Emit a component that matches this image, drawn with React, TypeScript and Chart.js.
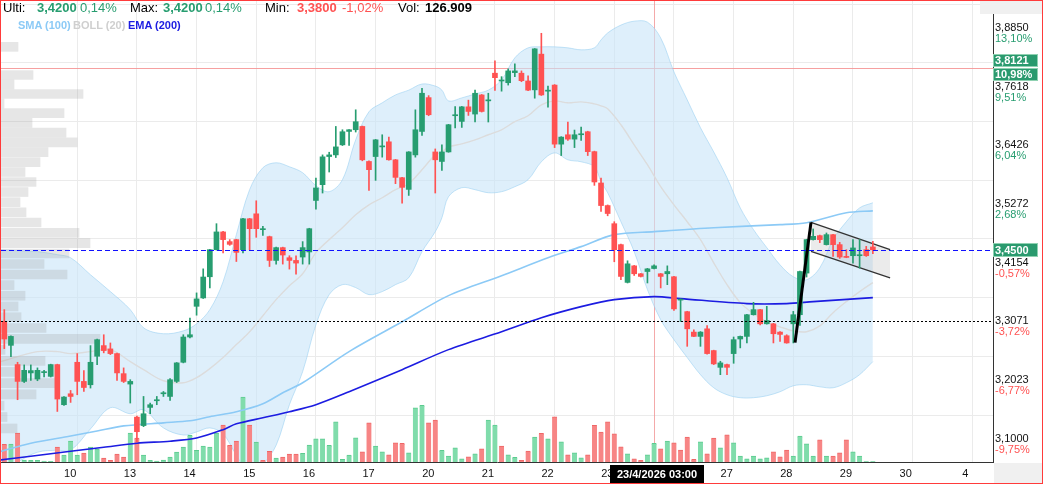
import React, { useEffect, useRef } from 'react';
import { Chart, registerables } from 'chart.js';

Chart.register(...registerables);

// ---------------- data ----------------
const dayTickIndex = [11, 20, 29, 38, 47, 56, 65, 74, 83, 92, 101, 110, 119, 128, 137, 146];
const dayTickLabels = ['10', '13', '14', '15', '16', '17', '20', '21', '22', '23', '24', '27', '28', '29', '30', '4'];

const priceTicks = [3.885, 3.7618, 3.6426, 3.5272, 3.4154, 3.3071, 3.2023, 3.1];
const priceTickPct = ['13,10%', '9,51%', '6,04%', '2,68%', '-0,57%', '-3,72%', '-6,77%', '-9,75%'];

const opens = [
  3.3169, 3.2737, 3.2393, 3.2095, 3.2245, 3.2137, 3.2250, 3.2184, 3.2393, 3.1687,
  3.1878, 3.2434, 3.2095, 3.2036, 3.2541, 3.2732, 3.2673, 3.2589, 3.2232, 3.2048,
  3.1472, 3.1326, 3.1640, 3.1756, 3.1878, 3.1831, 3.2095, 3.2434, 3.2887, 3.3446,
  3.3600, 3.3993, 3.4502, 3.4840, 3.4655, 3.4693, 3.4502, 3.5093, 3.5188, 3.4883,
  3.4750, 3.4299, 3.4541, 3.4350, 3.4299, 3.4363, 3.4459, 3.5447, 3.5756, 3.6312,
  3.6345, 3.6546, 3.6816, 3.6850, 3.6917, 3.6214, 3.6312, 3.6505, 3.6607, 3.6247,
  3.5893, 3.5663, 3.6345, 3.6816, 3.7506, 3.6404, 3.6214, 3.6404, 3.7135, 3.7019,
  3.7317, 3.7169, 3.7561, 3.7439, 3.8012, 3.7850, 3.7814, 3.8024, 3.8012, 3.7850,
  3.7666, 3.8412, 3.7639, 3.7765, 3.6560, 3.6749, 3.6661, 3.6749, 3.6810, 3.6410,
  3.5789, 3.5348, 3.4998, 3.4598, 3.3888, 3.4197, 3.4049, 3.4091, 3.4147, 3.4049,
  3.4049, 3.3993, 3.3560, 3.3348, 3.2976, 3.2898, 3.3035, 3.2643, 3.2344, 3.2393,
  3.2589, 3.2851, 3.2898, 3.3292, 3.3385, 3.3126, 3.3126, 3.2976, 3.2910, 3.3126,
  3.3292, 3.4062, 3.4693, 3.4769, 3.4598, 3.4788, 3.4598, 3.4369, 3.4388, 3.4388,
  3.4502, 3.4554,
];
const highs = [
  3.3385, 3.2910, 3.2434, 3.2387, 3.2387, 3.2334, 3.2291, 3.2400, 3.2400, 3.1831,
  3.1936, 3.2589, 3.2286, 3.2732, 3.2850, 3.2928, 3.2780, 3.2600, 3.2334, 3.2125,
  3.1490, 3.1831, 3.1716, 3.1831, 3.1918, 3.2143, 3.2430, 3.2928, 3.3231, 3.3693,
  3.4141, 3.4510, 3.4998, 3.4850, 3.4693, 3.4700, 3.5100, 3.5100, 3.5441, 3.4946,
  3.4760, 3.4550, 3.4550, 3.4388, 3.4388, 3.4655, 3.4910, 3.5887, 3.6345, 3.6398,
  3.6917, 3.6850, 3.6855, 3.7256, 3.6925, 3.6225, 3.6655, 3.6749, 3.6702, 3.6255,
  3.5900, 3.6410, 3.7256, 3.7696, 3.7547, 3.6464, 3.6546, 3.6960, 3.7324, 3.7325,
  3.7454, 3.7660, 3.7570, 3.7596, 3.8271, 3.7940, 3.8102, 3.8208, 3.8060, 3.7955,
  3.8530, 3.8854, 3.7744, 3.7775, 3.6710, 3.7007, 3.6844, 3.6905, 3.6820, 3.6420,
  3.5887, 3.5360, 3.5036, 3.4610, 3.4292, 3.4205, 3.4055, 3.4150, 3.4216, 3.4055,
  3.4197, 3.4000, 3.3582, 3.3355, 3.3017, 3.2985, 3.3095, 3.2650, 3.2452, 3.2400,
  3.2887, 3.2905, 3.3300, 3.3519, 3.3390, 3.3446, 3.3135, 3.2985, 3.2928, 3.3353,
  3.4100, 3.4700, 3.4897, 3.4780, 3.4820, 3.4795, 3.4641, 3.4502, 3.4693, 3.4693,
  3.4565, 3.4661,
];
const lows = [
  3.2678, 3.2535, 3.1774, 3.2075, 3.2113, 3.2107, 3.2173, 3.2173, 3.1570, 3.1674,
  3.1727, 3.1861, 3.1918, 3.1978, 3.2393, 3.2602, 3.2571, 3.2113, 3.2075, 3.1716,
  3.1047, 3.1308, 3.1530, 3.1687, 3.1831, 3.1762, 3.2075, 3.2423, 3.2869, 3.3283,
  3.3590, 3.3785, 3.4495, 3.4440, 3.4584, 3.4279, 3.4440, 3.4502, 3.4737, 3.4775,
  3.4185, 3.4230, 3.4230, 3.4136, 3.4043, 3.4230, 3.4230, 3.5278, 3.5592, 3.6005,
  3.6292, 3.6532, 3.6532, 3.6804, 3.6227, 3.5644, 3.5840, 3.6300, 3.6240, 3.5775,
  3.5396, 3.5545, 3.6300, 3.6735, 3.7135, 3.5592, 3.6037, 3.6398, 3.6885, 3.6897,
  3.7141, 3.7007, 3.7210, 3.7007, 3.7654, 3.7639, 3.7765, 3.7940, 3.7835, 3.7650,
  3.7494, 3.7550, 3.7311, 3.6491, 3.6332, 3.6633, 3.6491, 3.6633, 3.6332, 3.5742,
  3.5232, 3.5150, 3.4274, 3.3938, 3.3877, 3.4017, 3.3988, 3.3877, 3.4140, 3.3785,
  3.3846, 3.3372, 3.3169, 3.2719, 3.2892, 3.2719, 3.2580, 3.2393, 3.2214, 3.2214,
  3.2416, 3.2691, 3.2780, 3.3285, 3.3108, 3.3120, 3.2780, 3.2809, 3.2775, 3.2780,
  3.3095, 3.3988, 3.4685, 3.4636, 3.4590, 3.4375, 3.4337, 3.4350, 3.4249, 3.4154,
  3.4375, 3.4426,
];
const closes = [
  3.2851, 3.2898, 3.2095, 3.2291, 3.2286, 3.2291, 3.2268, 3.2393, 3.1786, 3.1821,
  3.1831, 3.2095, 3.1988, 3.2434, 3.2839, 3.2643, 3.2589, 3.2245, 3.2095, 3.2095,
  3.1221, 3.1530, 3.1687, 3.1774, 3.1896, 3.2125, 3.2423, 3.2887, 3.2928, 3.3582,
  3.3988, 3.4502, 3.4840, 3.4693, 3.4603, 3.4451, 3.5093, 3.4902, 3.4902, 3.4902,
  3.4299, 3.4541, 3.4401, 3.4299, 3.4249, 3.4541, 3.4902, 3.5691, 3.6306, 3.6345,
  3.6505, 3.6810, 3.6850, 3.7013, 3.6247, 3.6051, 3.6647, 3.6525, 3.6247, 3.5899,
  3.5703, 3.6404, 3.6850, 3.7596, 3.7155, 3.6247, 3.6404, 3.6952, 3.7155, 3.7317,
  3.7222, 3.7596, 3.7222, 3.7460, 3.7919, 3.7871, 3.8060, 3.8060, 3.7856, 3.7660,
  3.8524, 3.7561, 3.7660, 3.6560, 3.6702, 3.6661, 3.6749, 3.6769, 3.6410, 3.5809,
  3.5348, 3.5194, 3.4502, 3.3999, 3.4235, 3.4049, 3.3999, 3.4141, 3.4197, 3.3999,
  3.4091, 3.3398, 3.3578, 3.3035, 3.2898, 3.2976, 3.2589, 3.2405, 3.2423, 3.2344,
  3.2839, 3.2898, 3.3292, 3.3385, 3.3126, 3.3187, 3.2946, 3.2934, 3.2780, 3.3292,
  3.4091, 3.4693, 3.4756, 3.4693, 3.4788, 3.4598, 3.4363, 3.4356, 3.4535, 3.4401,
  3.4388, 3.4500,
];

// volume in thousands
const volumes = [
  88, 90, 145, 10, 8, 8, 5, 3, 75, 35,
  105, 35, 45, 75, 65, 20, 8, 40, 25, 145,
  120, 35, 8, 4, 10, 25, 50, 75, 133, 58,
  80, 75, 145, 185, 83, 105, 325, 185, 100, 8,
  53, 20, 25, 40, 40, 43, 84, 116, 116, 83,
  201, 13, 34, 121, 51, 196, 79, 51, 36, 96,
  93, 46, 271, 283, 196, 209, 58, 29, 71, 16,
  26, 41, 66, 209, 184, 79, 36, 23, 8, 54,
  124, 143, 116, 226, 101, 36, 46, 21, 36, 183,
  149, 201, 141, 76, 41, 16, 8, 36, 93, 66,
  104, 96, 59, 124, 13, 101, 41, 119, 71, 136,
  96, 29, 16, 29, 16, 21, 51, 26, 59, 29,
  129, 91, 29, 111, 29, 29, 46, 111, 51, 29,
  2, 2,
];
// 1 = up volume (green), 0 = down volume (red)
const volumeUp = [
  0, 1, 0, 1, 1, 1, 1, 1, 0, 1,
  1, 1, 0, 1, 1, 0, 0, 0, 0, 1,
  0, 1, 1, 1, 1, 1, 1, 1, 1, 1,
  1, 1, 1, 0, 0, 0, 1, 0, 1, 0,
  0, 1, 0, 0, 0, 1, 1, 1, 1, 1,
  1, 1, 1, 1, 0, 0, 1, 1, 0, 0,
  0, 1, 1, 1, 0, 0, 1, 1, 1, 1,
  0, 1, 0, 1, 1, 0, 1, 1, 0, 0,
  1, 0, 1, 0, 1, 0, 1, 1, 0, 0,
  0, 0, 0, 0, 1, 0, 0, 1, 1, 0,
  1, 0, 0, 0, 0, 1, 0, 0, 1, 0,
  1, 1, 1, 1, 1, 1, 0, 0, 0, 1,
  1, 1, 1, 0, 1, 0, 0, 0, 1, 1,
  1, 1,
];

const bollIndex = [-1, 2, 5, 8, 10, 13, 16, 19, 21, 24, 27, 29, 31, 33, 35, 37, 39, 41, 43, 45, 47, 49, 51, 53, 55, 57, 59, 61, 63, 65, 66, 67, 69, 71, 73, 75, 77, 79, 81, 83, 85, 87, 89, 90, 91, 93, 95, 97, 99, 101, 103, 105, 107, 109, 111, 113, 115, 117, 119, 121, 123, 125, 127, 129, 131];
const bollUpper = [3.4502, 3.4484, 3.4465, 3.4408, 3.4350, 3.4030, 3.3717, 3.3385, 3.3053, 3.2946, 3.2998, 3.3126, 3.3385, 3.3901, 3.4788, 3.5657, 3.6090, 3.6188, 3.6109, 3.5991, 3.5736, 3.5618, 3.5854, 3.6647, 3.7216, 3.7399, 3.7561, 3.7660, 3.7787, 3.7744, 3.7660, 3.7439, 3.7500, 3.7581, 3.7660, 3.7871, 3.8334, 3.8545, 3.8566, 3.8566, 3.8545, 3.8503, 3.8545, 3.8713, 3.8861, 3.9029, 3.9113, 3.9092, 3.8755, 3.8039, 3.7460, 3.6891, 3.6404, 3.5893, 3.5303, 3.4883, 3.4541, 3.4216, 3.3993, 3.3938, 3.4160, 3.4693, 3.5036, 3.5303, 3.5402];
const bollMiddle = [3.2428, 3.2536, 3.2625, 3.2625, 3.2589, 3.2625, 3.2660, 3.2446, 3.2303, 3.2107, 3.2071, 3.2161, 3.2321, 3.2518, 3.2750, 3.2982, 3.3274, 3.3569, 3.3827, 3.4049, 3.4445, 3.4693, 3.4921, 3.5169, 3.5362, 3.5500, 3.5657, 3.5775, 3.6051, 3.6345, 3.6404, 3.6505, 3.6566, 3.6647, 3.6749, 3.6850, 3.7013, 3.7135, 3.7358, 3.7439, 3.7399, 3.7419, 3.7378, 3.7338, 3.7277, 3.6952, 3.6546, 3.6149, 3.5716, 3.5362, 3.5036, 3.4693, 3.4255, 3.3846, 3.3514, 3.3311, 3.3163, 3.3071, 3.2998, 3.2982, 3.3089, 3.3329, 3.3532, 3.3717, 3.3883];
const bollLower = [3.0463, 3.0701, 3.0871, 3.0905, 3.0905, 3.1269, 3.1635, 3.1530, 3.1600, 3.1286, 3.1164, 3.1217, 3.1286, 3.1182, 3.0820, 3.0497, 3.0667, 3.0990, 3.1687, 3.2268, 3.3108, 3.3661, 3.3846, 3.3791, 3.3661, 3.3717, 3.3846, 3.3975, 3.4465, 3.4845, 3.5112, 3.5520, 3.5697, 3.5657, 3.5598, 3.5618, 3.5716, 3.5854, 3.6208, 3.6385, 3.6247, 3.6208, 3.6109, 3.5815, 3.5598, 3.5036, 3.4465, 3.3754, 3.3200, 3.2839, 3.2518, 3.2214, 3.1983, 3.1861, 3.1809, 3.1809, 3.1843, 3.1913, 3.2018, 3.2036, 3.2000, 3.1983, 3.2071, 3.2214, 3.2446];

const smaIndex = [-1, 4, 10, 14, 18, 24, 28, 31, 35, 39, 42, 45, 52, 60, 67, 75, 82, 87, 92, 98, 107, 117, 121, 127, 131];
const sma100 = [3.0871, 3.1024, 3.1146, 3.1233, 3.1321, 3.1373, 3.1408, 3.1478, 3.1565, 3.1704, 3.1896, 3.2071, 3.2625, 3.3163, 3.3643, 3.4012, 3.4350, 3.4560, 3.4788, 3.4845, 3.4921, 3.4979, 3.5017, 3.5207, 3.5245];

const emaIndex = [-1, 4, 10, 15, 20, 25, 29, 33, 35, 39, 43, 47, 52, 60, 67, 75, 81, 87, 92, 98, 102, 112, 118, 122, 131];
const ema200 = [3.0735, 3.0803, 3.0888, 3.0956, 3.1024, 3.1059, 3.1112, 3.1256, 3.1356, 3.1460, 3.1565, 3.1687, 3.1913, 3.2303, 3.2660, 3.2982, 3.3237, 3.3440, 3.3569, 3.3624, 3.3588, 3.3496, 3.3496, 3.3532, 3.3606];

// volume profile (price bins, relative volume)
const profilePrices = [3.8566, 3.7975, 3.7778, 3.7581, 3.7384, 3.7187, 3.6990, 3.6793, 3.6596, 3.6399, 3.6202, 3.6005, 3.5808, 3.5611, 3.5414, 3.5217, 3.5020, 3.4823, 3.4626, 3.4429, 3.4232, 3.4035, 3.3838, 3.3641, 3.3444, 3.3247, 3.3050, 3.2853, 3.2656, 3.2459, 3.2262, 3.2065, 3.1868, 3.1671, 3.1474, 3.1277];
const profileVolumes = [17, 32, 13, 82, 3, 63, 31, 65, 76, 47, 39, 24, 35, 27, 19, 25, 40, 78, 89, 68, 43, 66, 13, 24, 17, 20, 45, 99, 4, 44, 17, 55, 35, 3, 6, 16];

// drawing: flag pattern
const flagPoleX = [119.26, 121.67];
const flagPoleY = [3.2785, 3.5023];
const flagTopX = [121.67, 133.6];
const flagTopY = [3.5023, 3.4502];
const flagBottomX = [121.67, 133.6];
const flagBottomY = [3.4470, 3.3970];

const lastPrice = 3.45;
const lastPriceLabel = '3,4500';
const alertPrice = 3.8121;
const alertLabel = '3,8121';
const alertPct = '10,98%';
const supportPrice = 3.317;
const crosshairIndex = 98;
const crosshairLabel = '23/4/2026 03:00';

// view window
const X_MIN = -0.498;
const X_MAX = 149.12;
const Y_MIN = 3.0706;
const Y_MAX = 3.9549;
const VOL_MAX = 2305;
const PROFILE_MAX = 992;

const GREEN = '#279d70';
const RED = '#ff5252';
const FONT = 'Arial, "Liberation Sans", sans-serif';

const fmt = (v: number) => v.toFixed(4).replace('.', ',');

function buildConfig(): any {
  const idx = closes.map((_, i) => i);
  const candleColors = idx.map((i) => (closes[i] >= opens[i] ? GREEN : RED));
  const pts = (xs: number[], ys: number[]) => xs.map((x, i) => ({ x, y: ys[i] }));

  const lineBase = { type: 'line', pointRadius: 0, xAxisID: 'x', yAxisID: 'y', fill: false };

  const datasets: any[] = [
    { ...lineBase, label: 'bollLower', data: pts(bollIndex, bollLower), borderColor: 'rgba(150,205,240,0.55)', borderWidth: 1, tension: 0.35, order: 30 },
    { ...lineBase, label: 'bollUpper', data: pts(bollIndex, bollUpper), borderColor: 'rgba(150,205,240,0.55)', borderWidth: 1, tension: 0.35, fill: '-1', backgroundColor: 'rgba(200,228,248,0.6)', order: 30 },
    { ...lineBase, label: 'bollMid', data: pts(bollIndex, bollMiddle), borderColor: 'rgb(220,220,220)', borderWidth: 1.4, tension: 0.35, order: 29 },
    {
      type: 'bar', label: 'volume', xAxisID: 'x', yAxisID: 'yVol',
      data: idx.map((i) => ({ x: i, y: volumes[i] })),
      backgroundColor: idx.map((i) => (volumeUp[i] ? '#80dcab' : '#f78585')),
      borderColor: idx.map((i) => (volumeUp[i] ? '#5ccb8f' : '#ef6666')),
      borderWidth: { top: 1, left: 0, right: 0, bottom: 0 },
      barThickness: 5, grouped: false, order: 28,
    },
    { ...lineBase, label: 'SMA (100)', data: pts(smaIndex, sma100), borderColor: 'rgb(140,202,246)', borderWidth: 1.6, tension: 0.3, order: 27 },
    { ...lineBase, label: 'EMA (200)', data: pts(emaIndex, ema200), borderColor: 'rgb(28,28,225)', borderWidth: 1.6, tension: 0.3, order: 26 },
    {
      type: 'bar', label: 'profile', indexAxis: 'y', xAxisID: 'xVP', yAxisID: 'y',
      data: profilePrices.map((p, i) => ({ x: profileVolumes[i], y: p })),
      backgroundColor: 'rgba(150,150,150,0.24)', barThickness: 9, grouped: false, order: 25,
    },
    { ...lineBase, label: 'flagBottom', data: pts(flagBottomX, flagBottomY), borderColor: '#333', borderWidth: 1.3, tension: 0, order: 24 },
    { ...lineBase, label: 'flagTop', data: pts(flagTopX, flagTopY), borderColor: '#333', borderWidth: 1.3, tension: 0, fill: '-1', backgroundColor: 'rgba(190,190,190,0.3)', order: 24 },
    {
      type: 'bar', label: 'wicks', xAxisID: 'x', yAxisID: 'y',
      data: idx.map((i) => ({ x: i, y: [lows[i], highs[i]] })),
      backgroundColor: candleColors, barThickness: 1, grouped: false, order: 3,
    },
    {
      type: 'bar', label: 'bodies', xAxisID: 'x', yAxisID: 'y',
      data: idx.map((i) => ({ x: i, y: [opens[i], closes[i]] })),
      backgroundColor: candleColors, barThickness: 5, minBarLength: 1, grouped: false, order: 2,
    },
    { ...lineBase, label: 'flagPole', data: pts(flagPoleX, flagPoleY), borderColor: '#000', borderWidth: 3, tension: 0, order: 1 },
  ];

  const decor = {
    id: 'decor',
    beforeDatasetsDraw(chart: any) {
      const { ctx, chartArea: ca, scales } = chart;
      ctx.save();
      ctx.beginPath();
      ctx.rect(ca.left, ca.top, ca.width, ca.height);
      ctx.clip();
      const cx = Math.round(scales.x.getPixelForValue(crosshairIndex)) + 0.5;
      ctx.strokeStyle = 'rgba(240,140,140,0.75)';
      ctx.lineWidth = 1;
      ctx.beginPath();
      ctx.moveTo(cx, ca.top);
      ctx.lineTo(cx, ca.bottom);
      ctx.stroke();
      const ay = Math.round(scales.y.getPixelForValue(alertPrice)) + 0.5;
      ctx.strokeStyle = 'rgba(245,150,150,0.9)';
      ctx.beginPath();
      ctx.moveTo(ca.left, ay);
      ctx.lineTo(ca.right, ay);
      ctx.stroke();
      ctx.restore();
    },
    afterDatasetsDraw(chart: any) {
      const { ctx, chartArea: ca, scales } = chart;
      ctx.save();
      const sy = Math.round(scales.y.getPixelForValue(supportPrice)) + 0.5;
      ctx.strokeStyle = '#000';
      ctx.lineWidth = 1;
      ctx.setLineDash([2, 2]);
      ctx.beginPath();
      ctx.moveTo(ca.left, sy);
      ctx.lineTo(ca.right, sy);
      ctx.stroke();
      const ly = Math.round(scales.y.getPixelForValue(lastPrice)) + 0.5;
      ctx.strokeStyle = '#1010ff';
      ctx.setLineDash([5, 3]);
      ctx.beginPath();
      ctx.moveTo(ca.left, ly);
      ctx.lineTo(ca.right, ly);
      ctx.stroke();
      ctx.restore();
    },
    afterDraw(chart: any) {
      const { ctx, chartArea: ca, scales } = chart;
      const W = chart.width;
      const H = chart.height;
      ctx.save();
      // corners
      ctx.fillStyle = '#f0f0f0';
      ctx.fillRect(979, 0, W - 979, 13);
      ctx.fillRect(ca.right + 1, ca.bottom + 1, W - ca.right - 1, H - ca.bottom - 1);
      // axis lines
      ctx.strokeStyle = '#333';
      ctx.lineWidth = 1;
      ctx.beginPath();
      ctx.moveTo(ca.right + 0.5, 13);
      ctx.lineTo(ca.right + 0.5, ca.bottom + 1);
      ctx.moveTo(0, ca.bottom + 0.5);
      ctx.lineTo(ca.right + 1, ca.bottom + 0.5);
      ctx.stroke();
      // price labels
      ctx.font = `11px ${FONT}`;
      ctx.textAlign = 'left';
      ctx.textBaseline = 'middle';
      priceTicks.forEach((v, i) => {
        const y = scales.y.getPixelForValue(v);
        ctx.fillStyle = '#111';
        ctx.fillText(fmt(v), ca.right + 2, y - 5.5);
        ctx.fillStyle = priceTickPct[i].startsWith('-') ? RED : GREEN;
        ctx.fillText(priceTickPct[i], ca.right + 2, y + 5.5);
      });
      // boxes
      const box = (y0: number, h: number, text: string) => {
        ctx.fillStyle = '#2a9a6e';
        ctx.fillRect(ca.right, y0, 45, h);
        ctx.strokeStyle = '#8fd1b1';
        ctx.strokeRect(ca.right + 0.5, y0 + 0.5, 44, h - 1);
        ctx.fillStyle = '#fff';
        ctx.font = `bold 11px ${FONT}`;
        ctx.fillText(text, ca.right + 2, y0 + h / 2 + 0.5);
      };
      const ay = Math.round(scales.y.getPixelForValue(alertPrice));
      box(ay - 14, 13, alertLabel);
      box(ay, 13, alertPct);
      const ly = Math.round(scales.y.getPixelForValue(lastPrice));
      box(ly - 7, 14, lastPriceLabel);
      // crosshair time label
      const cx = Math.round(scales.x.getPixelForValue(crosshairIndex));
      ctx.fillStyle = '#000';
      ctx.fillRect(cx - 44, ca.bottom + 3, 94, 18);
      ctx.fillStyle = '#fff';
      ctx.font = `bold 11px ${FONT}`;
      ctx.textAlign = 'center';
      ctx.fillText(crosshairLabel, cx + 3, ca.bottom + 12.5);
      ctx.restore();
    },
  };

  return {
    type: 'bar',
    data: { datasets },
    plugins: [decor],
    options: {
      responsive: false,
      animation: false,
      events: [],
      layout: { padding: 0 },
      plugins: { legend: { display: false }, tooltip: { enabled: false } },
      scales: {
        x: {
          type: 'linear', min: X_MIN, max: X_MAX, offset: false,
          afterBuildTicks: (s: any) => { s.ticks = dayTickIndex.map((v) => ({ value: v })); },
          afterFit: (s: any) => { s.height = 21; },
          ticks: {
            autoSkip: false, maxRotation: 0, padding: 5, labelOffset: -7, color: '#111',
            font: { size: 11, family: FONT },
            callback: (v: number) => dayTickLabels[dayTickIndex.indexOf(v)] ?? '',
          },
          grid: { color: '#ebebeb', drawTicks: false, offset: false },
          border: { display: false },
        },
        y: {
          type: 'logarithmic', position: 'right', min: Y_MIN, max: Y_MAX, bounds: 'data',
          afterBuildTicks: (s: any) => { s.ticks = priceTicks.map((v) => ({ value: v })); },
          afterFit: (s: any) => { s.width = 49; },
          ticks: { display: false },
          grid: { color: '#ebebeb', drawTicks: false },
          border: { display: false },
        },
        yVol: { type: 'linear', display: false, min: 0, max: VOL_MAX },
        xVP: { type: 'linear', display: false, min: 0, max: PROFILE_MAX, offset: false },
      },
    },
  };
}

const headStyle: any = { position: 'absolute', top: 0, font: `13px ${FONT}`, lineHeight: '14px', whiteSpace: 'nowrap' };
const legStyle: any = { position: 'absolute', top: 17, font: `bold 11px ${FONT}`, lineHeight: '14px', whiteSpace: 'nowrap' };

export default function App() {
  const ref = useRef<HTMLCanvasElement>(null);
  useEffect(() => {
    const chart = new Chart(ref.current as HTMLCanvasElement, buildConfig());
    return () => chart.destroy();
  }, []);
  return (
    <div
      style={{
        position: 'fixed', left: 0, top: 0, width: 1043, height: 484, boxSizing: 'border-box',
        border: '1px solid #ff3b3b', background: '#fff', overflow: 'hidden',
      }}
    >
      <canvas ref={ref} width={1041} height={482} style={{ position: 'absolute', left: 0, top: 0, width: 1041, height: 482 }} />
      <span style={{ ...headStyle, left: 2, color: '#000' }}>Ulti:</span>
      <span style={{ ...headStyle, left: 36, color: GREEN, fontWeight: 'bold' }}>3,4200</span>
      <span style={{ ...headStyle, left: 79, color: GREEN }}>0,14%</span>
      <span style={{ ...headStyle, left: 129, color: '#000' }}>Max:</span>
      <span style={{ ...headStyle, left: 162, color: GREEN, fontWeight: 'bold' }}>3,4200</span>
      <span style={{ ...headStyle, left: 204, color: GREEN }}>0,14%</span>
      <span style={{ ...headStyle, left: 264, color: '#000' }}>Min:</span>
      <span style={{ ...headStyle, left: 296, color: RED, fontWeight: 'bold' }}>3,3800</span>
      <span style={{ ...headStyle, left: 341, color: RED }}>-1,02%</span>
      <span style={{ ...headStyle, left: 397, color: '#000' }}>Vol:</span>
      <span style={{ ...headStyle, left: 424, color: '#000', fontWeight: 'bold' }}>126.909</span>
      <span style={{ ...legStyle, left: 17, color: 'rgb(140,202,246)' }}>SMA (100)</span>
      <span style={{ ...legStyle, left: 72, color: '#cfcfcf' }}>BOLL (20)</span>
      <span style={{ ...legStyle, left: 127, color: '#1c1ce1' }}>EMA (200)</span>
    </div>
  );
}
